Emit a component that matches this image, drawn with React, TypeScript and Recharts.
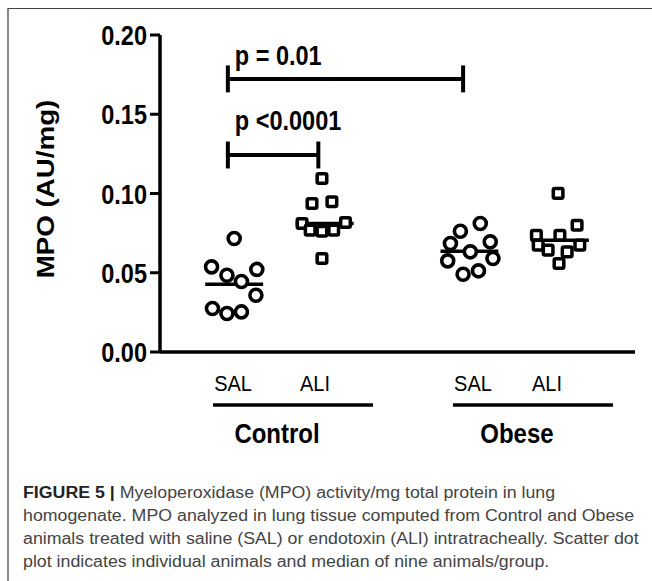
import React from 'react'
import { ScatterChart, Scatter, XAxis, YAxis, ReferenceLine } from 'recharts'

// column positions on the numeric x axis (Control SAL, Control ALI, Obese SAL, Obese ALI)
const columnPos = [1, 2, 3.6, 4.6]
const columnNames = ['SAL', 'ALI', 'SAL', 'ALI']
const tickPos = [1.057, 1.963, 3.709, 4.527]
// group label drawn under the first column tick of each group
const groupNames: Record<number, string> = { 0: 'Control', 2: 'Obese' }

const controlSal = [0.0716, 0.0537, 0.0484, 0.0445, 0.0521, 0.0358, 0.0274, 0.0243, 0.0253]
const controlSalJitter = [0.07, -0.18, -0.01, 0.15, 0.32, 0.31, -0.17, -0.01, 0.15]
const controlAli = [0.1095, 0.0937, 0.0948, 0.0811, 0.0769, 0.0762, 0.0769, 0.0817, 0.059]
const controlAliJitter = [0.04, -0.07, 0.15, -0.18, -0.09, 0.04, 0.17, 0.3, 0.04]
const obeseSal = [0.0811, 0.0762, 0.0685, 0.0695, 0.0632, 0.0575, 0.059, 0.0491, 0.0512]
const obeseSalJitter = [0.19, -0.03, -0.14, 0.3, 0.08, -0.17, 0.33, 0.0, 0.17]
const obeseAli = [0.1001, 0.08, 0.0737, 0.0737, 0.0674, 0.0643, 0.0674, 0.0632, 0.0558]
const obeseAliJitter = [0.05, 0.26, -0.19, 0.07, -0.17, -0.06, 0.29, 0.15, 0.06]
const medians = [0.0428, 0.081, 0.0636, 0.0705]

const yTicks = [0, 0.05, 0.1, 0.15, 0.2]

// significance brackets: column indices, height, label
const brackets = [
  { from: 0, to: 2, y: 0.1723, label: 'p = 0.01', lift: 14 },
  { from: 0, to: 1, y: 0.1243, label: 'p <0.0001', lift: 25 },
]

const FONT = '"Liberation Sans", Arial, sans-serif'
const STRETCH = 1.19

const series = [
  { values: controlSal, jitter: controlSalJitter, shape: 'circle' },
  { values: controlAli, jitter: controlAliJitter, shape: 'square' },
  { values: obeseSal, jitter: obeseSalJitter, shape: 'circle' },
  { values: obeseAli, jitter: obeseAliJitter, shape: 'square' },
]

function Txt({ x, y, size, bold = true, sy = STRETCH, anchor = 'start', children }: any) {
  return (
    <text
      transform={`translate(${x},${y}) scale(1,${sy})`}
      fontFamily={FONT}
      fontSize={size}
      fontWeight={bold ? 700 : 400}
      textAnchor={anchor}
      fill="#000"
    >
      {children}
    </text>
  )
}

const circleShape = (p: any) => (
  <circle cx={p.cx} cy={p.cy} r={6} fill="#fff" stroke="#000" strokeWidth={3.6} />
)
const squareShape = (p: any) => (
  <rect x={p.cx - 4.8} y={p.cy - 4.8} width={9.6} height={9.6} rx={1.5} fill="#fff" stroke="#000" strokeWidth={3.5} />
)

const YTick = ({ x, y, payload }: any) => (
  <Txt x={x} y={y + 10} size={23.5} anchor="end">{payload.value.toFixed(2)}</Txt>
)

const ColumnTick = ({ x, y, index }: any) => (
  <g>
    <Txt x={x} y={y + 39} size={20} bold={false} sy={1.08} anchor="middle">{columnNames[index]}</Txt>
    {groupNames[index] && (
      <g>
        <line x1={x - 20} x2={x + 140} y1={y + 53} y2={y + 53} stroke="#000" strokeWidth={3.5} />
        <Txt x={x + 44} y={y + 91} size={24} sy={1.12} anchor="middle">{groupNames[index]}</Txt>
      </g>
    )}
  </g>
)

const YLabel = () => (
  <text
    transform={`translate(54,189) rotate(-90) scale(1.18,1)`}
    fontFamily={FONT}
    fontSize={23.5}
    fontWeight={700}
    textAnchor="middle"
  >
    MPO (AU/mg)
  </text>
)

export default function App() {
  const tickH = 0.0085
  return (
    <div style={{ position: 'absolute', left: 0, top: 0, width: 652, height: 581, background: '#fff', overflow: 'hidden' }}>
      <div
        style={{
          position: 'absolute',
          left: 7,
          top: 8,
          width: 700,
          height: 700,
          borderTop: '1px solid #444',
          borderLeft: '2px solid #8a8a8a',
        }}
      />
      <div style={{ position: 'absolute', left: 0, top: 0 }}>
        <ScatterChart width={652} height={470} margin={{ top: 35, right: 17, left: 100, bottom: 0 }}>
          <XAxis
            dataKey="x"
            type="number"
            domain={[0.25, 5.5]}
            allowDataOverflow
            ticks={tickPos}
            tick={<ColumnTick />}
            tickLine={false}
            tickSize={0}
            tickMargin={0}
            height={118}
            axisLine={{ stroke: '#000', strokeWidth: 3.5 }}
            interval={0}
          />
          <YAxis
            dataKey="y"
            type="number"
            domain={[0, 0.2]}
            ticks={yTicks}
            width={60}
            interval={0}
            tick={<YTick />}
            tickSize={10}
            tickMargin={3}
            tickLine={{ stroke: '#000', strokeWidth: 3 }}
            axisLine={{ stroke: '#000', strokeWidth: 3.5 }}
            label={{ content: () => <YLabel /> }}
          />
          {series.map((s, i) => (
            <Scatter
              key={i}
              data={s.values.map((v, j) => ({ x: columnPos[i] + s.jitter[j], y: v }))}
              shape={s.shape === 'circle' ? circleShape : squareShape}
              isAnimationActive={false}
            />
          ))}
          {medians.map((m, i) => (
            <ReferenceLine
              key={`m${i}`}
              segment={[
                { x: columnPos[i] + 0.07 - 0.32, y: m },
                { x: columnPos[i] + 0.07 + 0.32, y: m },
              ]}
              stroke="#000"
              strokeWidth={3.5}
            />
          ))}
          {brackets.map((b, i) => {
            const x1 = columnPos[b.from]
            const x2 = columnPos[b.to]
            return (
              <React.Fragment key={`b${i}`}>
                <ReferenceLine
                  segment={[{ x: x1, y: b.y }, { x: x2, y: b.y }]}
                  stroke="#000"
                  strokeWidth={4}
                  label={{
                    content: ({ viewBox }: any) => (
                      <Txt x={viewBox.x + 7} y={viewBox.y - b.lift} size={23.5}>{b.label}</Txt>
                    ),
                  }}
                />
                <ReferenceLine segment={[{ x: x1, y: b.y - tickH }, { x: x1, y: b.y + tickH }]} stroke="#000" strokeWidth={4} />
                <ReferenceLine segment={[{ x: x2, y: b.y - tickH }, { x: x2, y: b.y + tickH }]} stroke="#000" strokeWidth={4} />
              </React.Fragment>
            )
          })}
        </ScatterChart>
      </div>
      <div
        style={{
          position: 'absolute',
          left: 23,
          top: 481,
          fontFamily: FONT,
          fontSize: 16,
          lineHeight: '23px',
          color: '#444',
          whiteSpace: 'nowrap',
          transform: 'scaleX(1.11)',
          transformOrigin: '0 0',
        }}
      >
        <b style={{ color: '#222' }}>FIGURE 5 |</b> Myeloperoxidase (MPO) activity/mg total protein in lung
        <br />
        homogenate. MPO analyzed in lung tissue computed from Control and Obese
        <br />
        animals treated with saline (SAL) or endotoxin (ALI) intratracheally. Scatter dot
        <br />
        plot indicates individual animals and median of nine animals/group.
      </div>
    </div>
  )
}
